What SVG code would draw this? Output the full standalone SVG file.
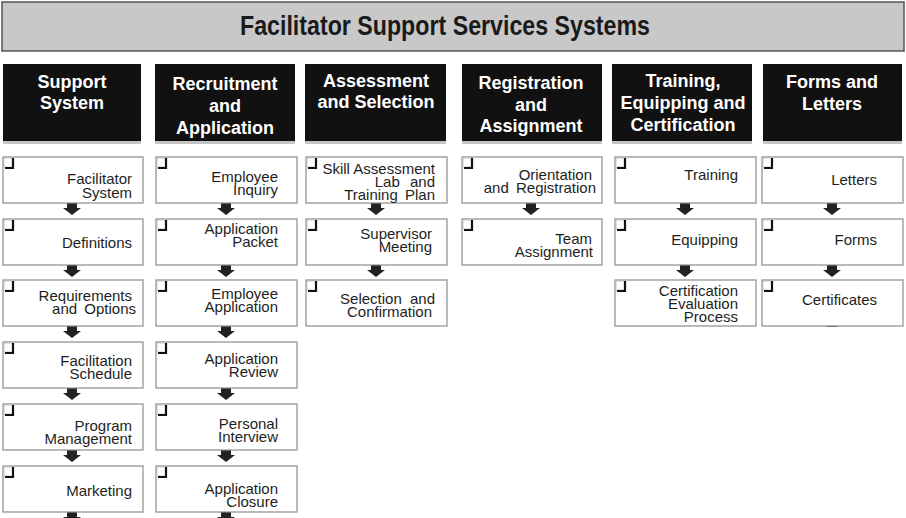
<svg xmlns="http://www.w3.org/2000/svg" width="906" height="518" viewBox="0 0 906 518">
<style>
.hdr{fill:#111}
.shd{fill:#c4c4c4}
.ht{font-family:"Liberation Sans",Arial,sans-serif;font-weight:bold;font-size:18px;fill:#fff;text-anchor:middle}
.box{fill:#fff;stroke:#8c8c8c;stroke-width:1.2}
.bt{font-family:"Liberation Sans",Arial,sans-serif;font-size:15px;fill:#1e1e1e;text-anchor:end}
.arr{fill:#222}
</style>
<defs>
<g id="chk"><rect x="0" y="0" width="9" height="9" fill="none" stroke="#bbb" stroke-width="0.8"/><path d="M9 0 V10 H1" fill="none" stroke="#111" stroke-width="2.2"/></g>
<path id="ar" class="arr" d="M-5 0 H5 V5 H9 L0 12 L-9 5 H-5 Z"/>
</defs>
<rect width="906" height="518" fill="#fff"/>
<g id="title">
<rect x="2" y="2" width="902" height="49" fill="#c8c8c8" stroke="#555" stroke-width="1.5"/>
<text x="445" y="35" font-family="'Liberation Sans Narrow','Liberation Sans',Arial,sans-serif" font-weight="bold" font-size="28" fill="#1a1a1a" text-anchor="middle" textLength="410" lengthAdjust="spacingAndGlyphs">Facilitator Support Services Systems</text>
</g>
<g id="headers">
<g id="h1"><rect class="shd" x="3" y="140" width="138" height="4"/><rect class="hdr" x="3" y="64" width="138" height="77"/><text class="ht" x="72" y="88">Support</text><text class="ht" x="72" y="109">System</text></g>
<g id="h2"><rect class="shd" x="155" y="140" width="140" height="4"/><rect class="hdr" x="155" y="64" width="140" height="77"/><text class="ht" x="225" y="90">Recruitment</text><text class="ht" x="225" y="112">and</text><text class="ht" x="225" y="134">Application</text></g>
<g id="h3"><rect class="shd" x="305" y="140" width="141" height="4"/><rect class="hdr" x="305" y="64" width="141" height="77"/><text class="ht" x="376" y="87">Assessment</text><text class="ht" x="376" y="108">and Selection</text></g>
<g id="h4"><rect class="shd" x="462" y="140" width="140" height="4"/><rect class="hdr" x="462" y="64" width="140" height="77"/><text class="ht" x="531" y="89">Registration</text><text class="ht" x="531" y="111">and</text><text class="ht" x="531" y="132">Assignment</text></g>
<g id="h5"><rect class="shd" x="612" y="140" width="140" height="4"/><rect class="hdr" x="612" y="64" width="140" height="77"/><text class="ht" x="683" y="87">Training,</text><text class="ht" x="683" y="109">Equipping and</text><text class="ht" x="683" y="131">Certification</text></g>
<g id="h6"><rect class="shd" x="763" y="140" width="139" height="4"/><rect class="hdr" x="763" y="64" width="139" height="77"/><text class="ht" x="832" y="88">Forms and</text><text class="ht" x="832" y="110">Letters</text></g>
</g>
<g id="connectors">
<use href="#ar" x="72" y="203"/><use href="#ar" x="72" y="265"/><use href="#ar" x="72" y="326"/><use href="#ar" x="72" y="388"/><use href="#ar" x="72" y="450"/><use href="#ar" x="72" y="512"/>
<use href="#ar" x="226" y="203"/><use href="#ar" x="226" y="265"/><use href="#ar" x="226" y="326"/><use href="#ar" x="226" y="388"/><use href="#ar" x="226" y="450"/><use href="#ar" x="226" y="512"/>
<use href="#ar" x="376" y="203"/><use href="#ar" x="376" y="265"/>
<use href="#ar" x="531" y="203"/>
<use href="#ar" x="685" y="203"/><use href="#ar" x="685" y="265"/>
<use href="#ar" x="832" y="203"/><use href="#ar" x="832" y="265"/>
<rect x="826" y="325" width="12" height="2" fill="#555"/>
</g>
<g id="c1">
<g id="n-facilitator-system"><rect class="box" x="3" y="157" width="140" height="46"/><use href="#chk" x="4" y="158"/><text class="bt" x="132" y="184">Facilitator</text><text class="bt" x="132" y="198">System</text></g>
<g id="n-definitions"><rect class="box" x="3" y="219" width="140" height="46"/><use href="#chk" x="4" y="220"/><text class="bt" x="132" y="248">Definitions</text></g>
<g id="n-requirements"><rect class="box" x="3" y="280" width="140" height="46"/><use href="#chk" x="4" y="281"/><text class="bt" x="132" y="301">Requirements</text><text class="bt" x="136" y="314" word-spacing="3">and Options</text></g>
<g id="n-facilitation-schedule"><rect class="box" x="3" y="342" width="140" height="46"/><use href="#chk" x="4" y="343"/><text class="bt" x="132" y="366">Facilitation</text><text class="bt" x="132" y="379">Schedule</text></g>
<g id="n-program-management"><rect class="box" x="3" y="404" width="140" height="46"/><use href="#chk" x="4" y="405"/><text class="bt" x="132" y="431">Program</text><text class="bt" x="132" y="444">Management</text></g>
<g id="n-marketing"><rect class="box" x="3" y="466" width="140" height="46"/><use href="#chk" x="4" y="467"/><text class="bt" x="132" y="496">Marketing</text></g>
</g>
<g id="c2">
<g id="n-employee-inquiry"><rect class="box" x="156" y="157" width="141" height="46"/><use href="#chk" x="157" y="158"/><text class="bt" x="278" y="182">Employee</text><text class="bt" x="278" y="195">Inquiry</text></g>
<g id="n-application-packet"><rect class="box" x="156" y="219" width="141" height="46"/><use href="#chk" x="157" y="220"/><text class="bt" x="278" y="234">Application</text><text class="bt" x="278" y="247">Packet</text></g>
<g id="n-employee-application"><rect class="box" x="156" y="280" width="141" height="46"/><use href="#chk" x="157" y="281"/><text class="bt" x="278" y="299">Employee</text><text class="bt" x="278" y="312">Application</text></g>
<g id="n-application-review"><rect class="box" x="156" y="342" width="141" height="46"/><use href="#chk" x="157" y="343"/><text class="bt" x="278" y="364">Application</text><text class="bt" x="278" y="377">Review</text></g>
<g id="n-personal-interview"><rect class="box" x="156" y="404" width="141" height="46"/><use href="#chk" x="157" y="405"/><text class="bt" x="278" y="429">Personal</text><text class="bt" x="278" y="442">Interview</text></g>
<g id="n-application-closure"><rect class="box" x="156" y="466" width="141" height="46"/><use href="#chk" x="157" y="467"/><text class="bt" x="278" y="494">Application</text><text class="bt" x="278" y="507">Closure</text></g>
</g>
<g id="c3">
<g id="n-skill-assessment"><rect class="box" x="306" y="157" width="141" height="46"/><use href="#chk" x="307" y="158"/><text class="bt" x="435" y="174">Skill Assessment</text><text class="bt" x="435" y="187" word-spacing="6">Lab and</text><text class="bt" x="435" y="200" word-spacing="3">Training Plan</text></g>
<g id="n-supervisor-meeting"><rect class="box" x="306" y="219" width="141" height="46"/><use href="#chk" x="307" y="220"/><text class="bt" x="432" y="239">Supervisor</text><text class="bt" x="432" y="252">Meeting</text></g>
<g id="n-selection-confirmation"><rect class="box" x="306" y="280" width="141" height="46"/><use href="#chk" x="307" y="281"/><text class="bt" x="435" y="304" word-spacing="4">Selection and</text><text class="bt" x="432" y="317">Confirmation</text></g>
</g>
<g id="c4">
<g id="n-orientation"><rect class="box" x="462" y="157" width="140" height="46"/><use href="#chk" x="463" y="158"/><text class="bt" x="592" y="180">Orientation</text><text class="bt" x="596" y="193" word-spacing="3">and Registration</text></g>
<g id="n-team-assignment"><rect class="box" x="462" y="219" width="140" height="46"/><use href="#chk" x="463" y="220"/><text class="bt" x="592" y="244">Team</text><text class="bt" x="593" y="257">Assignment</text></g>
</g>
<g id="c5">
<g id="n-training"><rect class="box" x="615" y="157" width="141" height="46"/><use href="#chk" x="616" y="158"/><text class="bt" x="738" y="180">Training</text></g>
<g id="n-equipping"><rect class="box" x="615" y="219" width="141" height="46"/><use href="#chk" x="616" y="220"/><text class="bt" x="738" y="245">Equipping</text></g>
<g id="n-certification"><rect class="box" x="615" y="280" width="141" height="46"/><use href="#chk" x="616" y="281"/><text class="bt" x="738" y="296">Certification</text><text class="bt" x="738" y="309">Evaluation</text><text class="bt" x="738" y="322">Process</text></g>
</g>
<g id="c6">
<g id="n-letters"><rect class="box" x="762" y="157" width="141" height="46"/><use href="#chk" x="763" y="158"/><text class="bt" x="877" y="185">Letters</text></g>
<g id="n-forms"><rect class="box" x="762" y="219" width="141" height="46"/><use href="#chk" x="763" y="220"/><text class="bt" x="877" y="245">Forms</text></g>
<g id="n-certificates"><rect class="box" x="762" y="280" width="141" height="46"/><use href="#chk" x="763" y="281"/><text class="bt" x="877" y="305">Certificates</text></g>
</g>
</svg>
